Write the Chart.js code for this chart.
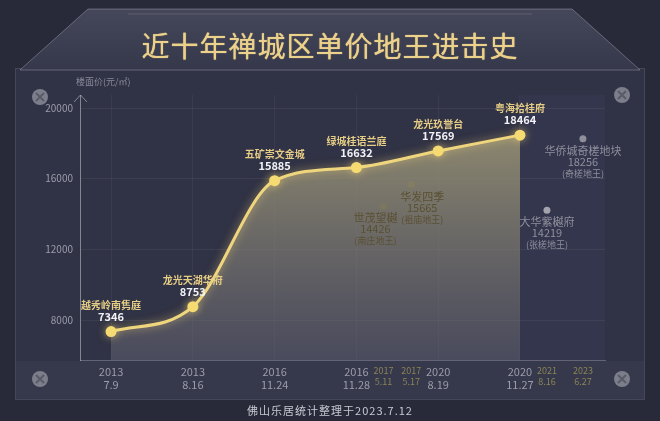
<!DOCTYPE html>
<html>
<head>
<meta charset="utf-8">
<script src="https://cdn.jsdelivr.net/npm/chart.js@4"></script>
<style>
  html, body { margin: 0; padding: 0; background: #282a3a; }
  #wrap { position: relative; width: 660px; height: 421px; overflow: hidden; }
  #c { position: absolute; left: 0; top: 0; }
  .txt { position: absolute; font-family: "Noto Sans CJK SC", "Noto Sans", sans-serif; white-space: nowrap; }
  #title { left: 0; width: 660px; top: 25px; text-align: center; font-size: 28px; font-weight: normal; color: #ecd18a; letter-spacing: 1px; text-shadow: 0 0 1px #ecd18a; }
  #ytitle { left: 76px; top: 75px; font-size: 9px; color: #8a8b9a; }
  #foot { left: 0; width: 660px; top: 402px; text-align: center; font-size: 11px; color: #c9cad2; letter-spacing: 1px; }
</style>
</head>
<body>
<div id="wrap">
  <canvas id="c" width="660" height="421"></canvas>
  <div id="title" class="txt">近十年禅城区单价地王进击史</div>
  <div id="ytitle" class="txt">楼面价(元/㎡)</div>
  <div id="foot" class="txt">佛山乐居统计整理于2023.7.12</div>
</div>
<script>
// main line: record unit prices (元/㎡)
const mainNames  = ["越秀岭南隽庭", "龙光天湖华府", "五矿崇文金城", "绿城桂语兰庭", "龙光玖誉台", "粤海拾桂府"];
const mainValues = [7346, 8753, 15885, 16632, 17569, 18464];
const mainPos    = [0, 1, 2, 3, 4, 5];
const mainYears  = ["2013", "2013", "2016", "2016", "2020", "2020"];
const mainDays   = ["7.9", "8.16", "11.24", "11.28", "8.19", "11.27"];

// district land kings off the main line
const extraNames  = ["世茂望樾", "华发四季", "大华紫樾府", "华侨城奇槎地块"];
const extraNotes  = ["(南庄地王)", "(祖庙地王)", "(张槎地王)", "(奇槎地王)"];
const extraValues = [14426, 15665, 14219, 18256];
const extraPos    = [3.33, 3.67, 5.33, 5.77];
const extraYears  = ["2017", "2017", "2021", "2023"];
const extraDays   = ["5.11", "5.17", "8.16", "6.27"];

const yTicks = [8000, 12000, 16000, 20000];

const FONT = "'Noto Sans CJK SC', 'Noto Sans', sans-serif";
const extraDot   = ["#4b4326", "#4b4326", "#a2a3ad", "#8e8f9b"];
const extraText  = ["#5a5032", "#5a5032", "#8e8f9c", "#8e8f9c"];
const extraShift = [-8, 11, 0, 0];

const tickPos = mainPos.concat(extraPos).sort((a, b) => a - b);
function tickInfo(v) {
  let i = mainPos.indexOf(v);
  if (i >= 0) return { main: true, lines: [mainYears[i], mainDays[i]] };
  i = extraPos.indexOf(v);
  if (i >= 0) return { main: false, lines: [extraYears[i], extraDays[i]] };
  return { main: true, lines: "" };
}
const isMainTick = (c) => !c.tick || tickInfo(c.tick.value).main;

const decor = {
  id: "decor",
  beforeDraw(chart) {
    const ctx = chart.ctx;
    ctx.save();
    ctx.fillStyle = "#282a3a";
    ctx.fillRect(0, 0, 660, 421);
    // panel
    ctx.fillStyle = "#303245";
    ctx.fillRect(15, 68, 630, 332);
    ctx.strokeStyle = "rgba(255,255,255,0.10)";
    ctx.lineWidth = 1;
    ctx.strokeRect(15.5, 68.5, 629, 331);
    // band under axis
    ctx.fillStyle = "#36384b";
    ctx.fillRect(16, 361, 628, 38);
    // title banner
    const g = ctx.createLinearGradient(0, 8, 0, 70);
    g.addColorStop(0, "#45475a");
    g.addColorStop(1, "#35374a");
    ctx.beginPath();
    ctx.moveTo(88, 9); ctx.lineTo(572, 9); ctx.lineTo(640, 70); ctx.lineTo(20, 70); ctx.closePath();
    ctx.fillStyle = g; ctx.fill();
    ctx.strokeStyle = "rgba(200,200,210,0.35)"; ctx.stroke();
    ctx.beginPath();
    ctx.moveTo(128, 14); ctx.lineTo(532, 14);
    ctx.strokeStyle = "rgba(220,220,230,0.18)"; ctx.stroke();
    // right-side plot region
    const a = chart.chartArea;
    const xEnd = chart.scales.x.getPixelForValue(mainPos[mainPos.length - 1]);
    ctx.fillStyle = "#34364d";
    ctx.fillRect(xEnd, a.top, a.right - xEnd, a.bottom - a.top);
    // screws
    [[40, 97], [622, 95], [40, 379], [622, 379]].forEach(([x, y]) => {
      ctx.beginPath(); ctx.arc(x, y, 8, 0, Math.PI * 2);
      ctx.fillStyle = "#7d7e8b"; ctx.fill();
      ctx.strokeStyle = "#5a5b68"; ctx.lineWidth = 2;
      ctx.beginPath(); ctx.moveTo(x - 4, y - 4); ctx.lineTo(x + 4, y + 4);
      ctx.moveTo(x + 4, y - 4); ctx.lineTo(x - 4, y + 4); ctx.stroke();
    });
    ctx.restore();
  },
  afterDraw(chart) {
    const ctx = chart.ctx;
    const a = chart.chartArea;
    ctx.save();
    // y axis arrow
    ctx.strokeStyle = "rgba(190,190,200,0.6)";
    ctx.lineWidth = 1;
    ctx.beginPath();
    ctx.moveTo(a.left - 6, a.top + 7); ctx.lineTo(a.left + 0.5, a.top); ctx.lineTo(a.left + 7, a.top + 7);
    ctx.stroke();
    // labels for main points
    const m = chart.getDatasetMeta(0);
    ctx.textAlign = "center";
    m.data.forEach((p, i) => {
      ctx.font = "bold 10px " + FONT;
      ctx.fillStyle = "#e6cd86";
      ctx.fillText(mainNames[i], p.x, p.y - 23);
      ctx.font = "bold 11px " + FONT;
      ctx.fillStyle = "#f2f2f6";
      ctx.fillText(mainValues[i], p.x, p.y - 11);
    });
    // labels for extra points
    const e = chart.getDatasetMeta(1);
    e.data.forEach((p, i) => {
      const x = p.x + extraShift[i];
      ctx.fillStyle = extraText[i];
      ctx.font = "11px " + FONT;
      ctx.fillText(extraNames[i], x, p.y + 16);
      ctx.fillText(extraValues[i], x, p.y + 27);
      ctx.font = "9px " + FONT;
      ctx.fillText(extraNotes[i], x, p.y + 38);
    });
    ctx.restore();
  }
};

const glow = {
  id: "glow",
  beforeDatasetDraw(chart, args) {
    if (args.index === 0) {
      chart.ctx.save();
      chart.ctx.shadowColor = "rgba(255,220,120,0.6)";
      chart.ctx.shadowBlur = 8;
    }
  },
  afterDatasetDraw(chart, args) {
    if (args.index === 0) chart.ctx.restore();
  }
};

new Chart(document.getElementById("c"), {
  type: "line",
  data: {
    datasets: [
      {
        data: mainPos.map((x, i) => ({ x: x, y: mainValues[i] })),
        borderColor: "#efd67e",
        borderWidth: 3,
        cubicInterpolationMode: "monotone",
        pointRadius: 5.5,
        pointBackgroundColor: "#f6da72",
        pointBorderWidth: 0,
        fill: "start",
        backgroundColor: (c) => {
          const a = c.chart.chartArea;
          if (!a) return "rgba(140,134,110,0.6)";
          const g = c.chart.ctx.createLinearGradient(0, a.top + 30, 0, a.bottom);
          g.addColorStop(0, "rgba(172,164,124,0.78)");
          g.addColorStop(1, "rgba(95,95,112,0.55)");
          return g;
        }
      },
      {
        type: "scatter",
        data: extraPos.map((x, i) => ({ x: x, y: extraValues[i] })),
        pointRadius: 3.5,
        pointBackgroundColor: extraDot,
        pointBorderWidth: 0,
        showLine: false
      }
    ]
  },
  options: {
    responsive: false,
    animation: false,
    layout: { padding: { left: 0, top: 95, right: 55, bottom: 21 } },
    plugins: { legend: { display: false }, tooltip: { enabled: false } },
    scales: {
      x: {
        type: "linear",
        min: -0.38,
        max: 6.04,
        afterBuildTicks: (s) => { s.ticks = tickPos.map(v => ({ value: v })); },
        afterFit: (s) => { s.height = 40; },
        border: { display: true, color: "rgba(150,150,165,0.5)" },
        grid: {
          color: (c) => (c.tick && mainPos.indexOf(c.tick.value) >= 0) ? "rgba(255,255,255,0.05)" : "rgba(0,0,0,0)",
          drawTicks: false
        },
        ticks: {
          autoSkip: false,
          maxRotation: 0,
          padding: 5,
          callback: (v) => tickInfo(v).lines,
          color: (c) => isMainTick(c) ? "#9c9daa" : "#8a8456",
          font: (c) => ({ family: FONT, size: isMainTick(c) ? 11 : 9 })
        }
      },
      y: {
        min: 5736,
        max: 20736,
        afterBuildTicks: (s) => { s.ticks = yTicks.map(v => ({ value: v })); },
        afterFit: (s) => { s.width = 80; },
        border: { display: true, color: "rgba(190,190,200,0.6)" },
        grid: { color: "rgba(255,255,255,0.06)", drawTicks: false },
        ticks: {
          color: "#9c9daa",
          padding: 7,
          font: { family: FONT, size: 10 },
          callback: (v) => String(v)
        }
      }
    }
  },
  plugins: [decor, glow]
});
</script>
</body>
</html>
